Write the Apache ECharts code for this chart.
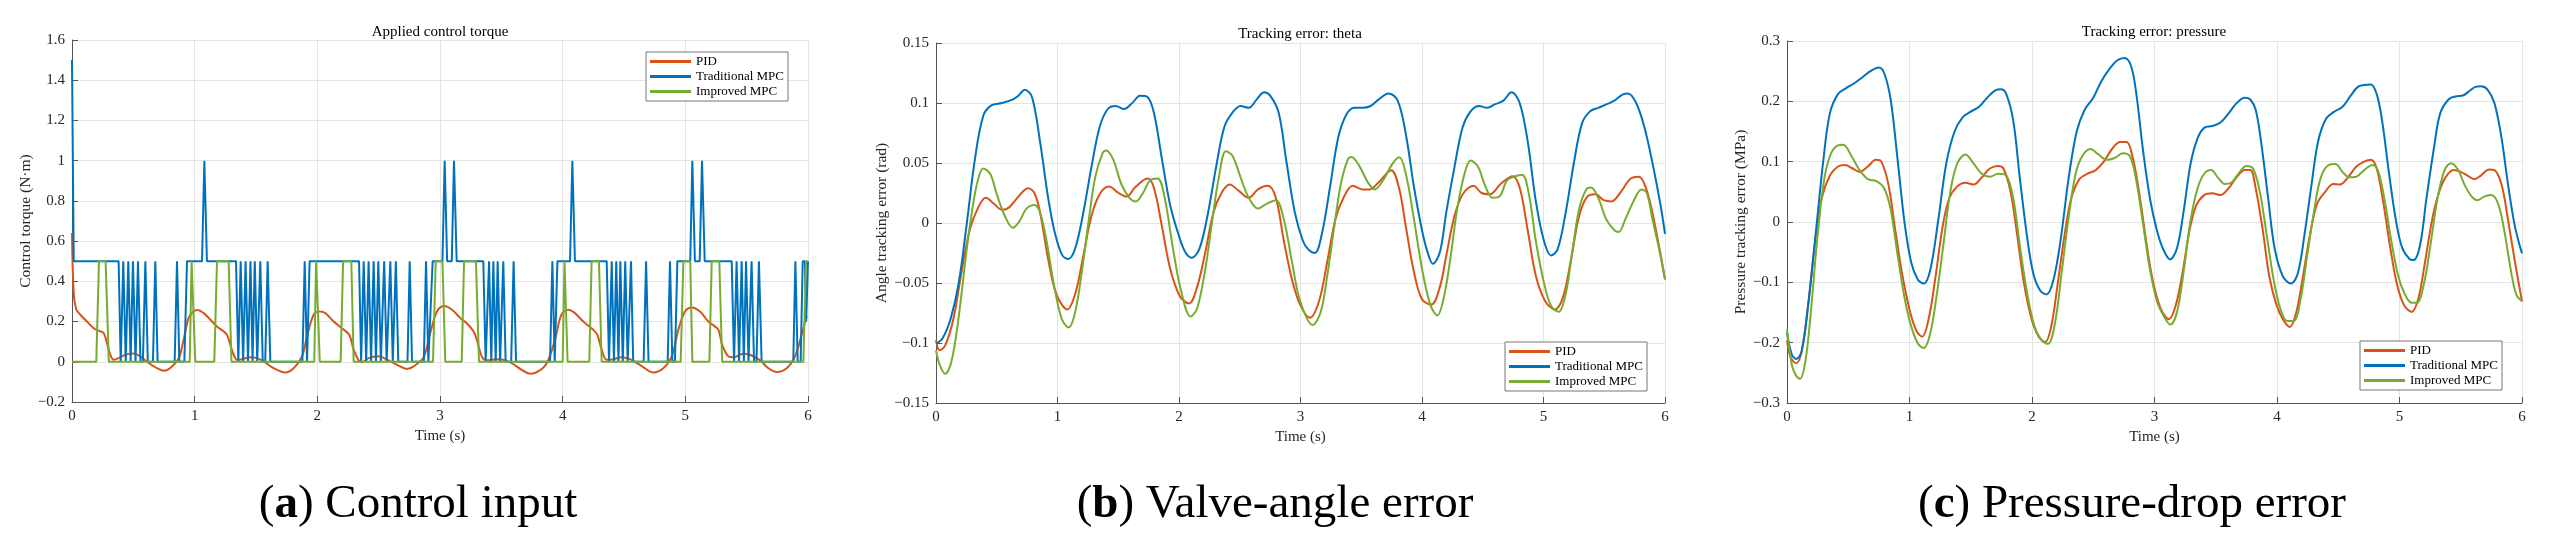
<!DOCTYPE html>
<html>
<head>
<meta charset="utf-8">
<script src="https://cdn.jsdelivr.net/npm/echarts@6/dist/echarts.min.js"></script>
<style>
html,body{margin:0;padding:0;background:#fff;}
#chart{width:2552px;height:555px;}
</style>
</head>
<body>
<div id="chart"></div>
<script>
// ---------- Data (time in s, value) ----------
const seriesNames = ['PID', 'Traditional MPC', 'Improved MPC'];
const xTicks = [0, 1, 2, 3, 4, 5, 6];

// Panel (a): applied control torque (N·m)
const torquePID = [[0,0.64],[0.014,0.34],[0.035,0.26],[0.068,0.234],[0.122,0.20],[0.177,0.167],[0.217,0.154],[0.258,0.143],[0.285,0.093],[0.3125,0.035],[0.34,0.01],[0.38,0.018],[0.448,0.038],[0.503,0.041],[0.557,0.027],[0.611,0.0],[0.693,-0.032],[0.753,-0.045],[0.815,-0.023],[0.87,0.018],[0.91,0.11],[0.95,0.217],[0.99,0.25],[1.025,0.257],[1.073,0.242],[1.128,0.209],[1.182,0.176],[1.236,0.151],[1.264,0.134],[1.29,0.085],[1.318,0.035],[1.345,0.01],[1.386,0.013],[1.454,0.023],[1.508,0.018],[1.5625,0.002],[1.644,-0.032],[1.739,-0.053],[1.807,-0.032],[1.875,0.027],[1.916,0.126],[1.97,0.234],[2.019,0.25],[2.065,0.242],[2.133,0.2],[2.2,0.167],[2.26,0.134],[2.296,0.06],[2.337,0.007],[2.364,-0.002],[2.418,0.018],[2.5,0.027],[2.58,0.007],[2.65,-0.015],[2.73,-0.036],[2.785,-0.023],[2.867,0.023],[2.92,0.143],[2.976,0.25],[3.035,0.277],[3.098,0.259],[3.166,0.217],[3.22,0.19],[3.274,0.151],[3.3,0.11],[3.34,0.027],[3.38,0.007],[3.462,0.013],[3.516,0.01],[3.584,-0.007],[3.666,-0.04],[3.734,-0.06],[3.80,-0.048],[3.87,-0.007],[3.9375,0.11],[3.99,0.234],[4.046,0.259],[4.10,0.242],[4.168,0.2],[4.25,0.159],[4.283,0.134],[4.318,0.06],[4.359,0.01],[4.413,0.013],[4.48,0.023],[4.549,0.013],[4.63,-0.015],[4.739,-0.053],[4.82,-0.032],[4.889,0.027],[4.943,0.159],[4.997,0.25],[5.05,0.27],[5.12,0.25],[5.1875,0.2],[5.24,0.176],[5.27,0.159],[5.30,0.085],[5.35,0.027],[5.39,0.022],[5.47,0.04],[5.527,0.035],[5.61,0.007],[5.677,-0.032],[5.745,-0.051],[5.826,-0.032],[5.894,0.027],[5.948,0.134],[5.989,0.229]];
const torqueTradMPC = [[0,1.5],[0.014,0.5],[0.38,0.5],[0.397,0],[0.418,0.5],[0.438,0],[0.459,0.5],[0.478,0],[0.497,0.5],[0.518,0],[0.538,0.5],[0.558,0],[0.578,0],[0.598,0.5],[0.618,0],[0.66,0],[0.679,0.5],[0.698,0],[0.837,0],[0.856,0.5],[0.875,0],[0.916,0],[0.9375,0.5],[1.06,0.5],[1.079,1],[1.10,0.5],[1.337,0.5],[1.356,0],[1.375,0.5],[1.395,0],[1.415,0.5],[1.435,0],[1.455,0.5],[1.472,0],[1.49,0.5],[1.51,0],[1.535,0.5],[1.555,0],[1.575,0],[1.595,0.5],[1.617,0],[1.878,0],[1.897,0.5],[1.916,0],[1.937,0.5],[2.34,0.5],[2.357,0],[2.378,0.5],[2.398,0],[2.418,0.5],[2.438,0],[2.459,0.5],[2.478,0],[2.497,0.5],[2.518,0],[2.545,0.5],[2.565,0],[2.575,0],[2.595,0.5],[2.615,0],[2.62,0],[2.64,0.5],[2.66,0],[2.735,0],[2.753,0.5],[2.772,0],[2.868,0],[2.886,0.5],[2.905,0],[2.92,0],[2.94,0.5],[3.02,0.5],[3.038,1],[3.058,0.5],[3.096,0.5],[3.114,1],[3.136,0.5],[3.353,0.5],[3.372,0],[3.40,0.5],[3.418,0],[3.435,0.5],[3.454,0],[3.47,0.5],[3.49,0],[3.516,0.5],[3.535,0],[3.58,0],[3.60,0.5],[3.62,0],[3.897,0],[3.916,0.5],[3.935,0],[3.957,0.5],[4.06,0.5],[4.079,1],[4.10,0.5],[4.359,0.5],[4.378,0],[4.40,0.5],[4.418,0],[4.437,0.5],[4.455,0],[4.47,0.5],[4.49,0],[4.51,0.5],[4.53,0],[4.538,0],[4.557,0.5],[4.575,0],[4.66,0],[4.68,0.5],[4.70,0],[4.856,0],[4.875,0.5],[4.894,0],[4.915,0],[4.935,0.5],[5.04,0.5],[5.057,1],[5.078,0.5],[5.117,0.5],[5.136,1],[5.158,0.5],[5.378,0.5],[5.397,0],[5.418,0.5],[5.438,0],[5.459,0.5],[5.477,0],[5.495,0.5],[5.515,0],[5.54,0.5],[5.56,0],[5.58,0],[5.60,0.5],[5.622,0],[5.88,0],[5.897,0.5],[5.916,0],[5.94,0],[5.957,0.5],[5.975,0.5],[5.985,0.2],[6,0.5]];
const torqueImpMPC = [[0,0],[0.198,0],[0.22,0.5],[0.274,0.5],[0.30,0],[0.96,0],[0.975,0.5],[0.99,0.5],[1.005,0],[1.16,0],[1.182,0.5],[1.277,0.5],[1.30,0],[1.975,0],[1.99,0.5],[2.005,0.5],[2.02,0],[2.19,0],[2.21,0.5],[2.277,0.5],[2.296,0],[2.943,0],[2.965,0.5],[3.02,0.5],[3.043,0],[3.177,0],[3.196,0.5],[3.293,0.5],[3.318,0],[4.0,0],[4.015,0.5],[4.025,0.5],[4.04,0],[4.217,0],[4.236,0.5],[4.296,0.5],[4.318,0],[4.962,0],[4.984,0.5],[5.04,0.5],[5.057,0],[5.196,0],[5.215,0.5],[5.277,0.5],[5.30,0],[5.962,0],[5.984,0.5],[6,0.5]];

// Panel (b): angle tracking error (rad)
const anglePID = [[0,-0.0975],[0.03,-0.106],[0.076,-0.102],[0.143,-0.08],[0.21,-0.041],[0.277,-0.006],[0.343,0.012],[0.41,0.021],[0.477,0.016],[0.544,0.011],[0.602,0.013],[0.678,0.022],[0.758,0.029],[0.81,0.025],[0.856,0.009],[0.923,-0.03],[0.99,-0.059],[1.08,-0.072],[1.146,-0.059],[1.213,-0.027],[1.28,0.006],[1.347,0.024],[1.423,0.0304],[1.503,0.025],[1.57,0.022],[1.637,0.0295],[1.74,0.037],[1.793,0.0295],[1.86,-0.003],[1.927,-0.038],[2.007,-0.061],[2.083,-0.067],[2.15,-0.053],[2.217,-0.024],[2.284,0.009],[2.35,0.025],[2.417,0.032],[2.49,0.027],[2.574,0.021],[2.65,0.028],[2.73,0.031],[2.797,0.021],[2.863,-0.015],[2.93,-0.047],[2.997,-0.068],[3.078,-0.079],[3.153,-0.065],[3.22,-0.0325],[3.287,0.003],[3.354,0.021],[3.43,0.031],[3.51,0.028],[3.568,0.028],[3.644,0.034],[3.747,0.044],[3.81,0.0295],[3.867,-0.003],[3.934,-0.041],[4.0,-0.0635],[4.077,-0.068],[4.148,-0.053],[4.2,-0.027],[4.268,0.006],[4.335,0.024],[4.424,0.031],[4.49,0.025],[4.558,0.024],[4.647,0.0325],[4.745,0.039],[4.804,0.0295],[4.87,-0.006],[4.937,-0.044],[5.013,-0.065],[5.093,-0.072],[5.16,-0.062],[5.227,-0.03],[5.294,0.006],[5.36,0.022],[5.428,0.024],[5.495,0.019],[5.56,0.018],[5.63,0.025],[5.718,0.037],[5.785,0.0385],[5.85,0.027],[5.92,-0.003],[6.0,-0.047]];
const angleTradMPC = [[0,-0.1005],[0.054,-0.096],[0.12,-0.08],[0.187,-0.05],[0.254,0],[0.32,0.053],[0.388,0.089],[0.455,0.098],[0.544,0.1],[0.633,0.103],[0.678,0.106],[0.73,0.111],[0.79,0.105],[0.856,0.068],[0.923,0.021],[0.98,-0.009],[1.04,-0.027],[1.088,-0.03],[1.146,-0.021],[1.213,0.009],[1.28,0.047],[1.347,0.08],[1.414,0.095],[1.48,0.0975],[1.548,0.095],[1.615,0.1],[1.68,0.106],[1.74,0.105],[1.793,0.092],[1.86,0.053],[1.927,0.015],[1.994,-0.009],[2.05,-0.024],[2.105,-0.029],[2.17,-0.021],[2.24,0.009],[2.306,0.047],[2.373,0.08],[2.44,0.092],[2.507,0.0975],[2.574,0.096],[2.64,0.103],[2.7,0.109],[2.752,0.106],[2.82,0.092],[2.886,0.05],[2.953,0.009],[3.02,-0.015],[3.064,-0.022],[3.118,-0.025],[3.176,-0.009],[3.243,0.03],[3.31,0.071],[3.376,0.09],[3.443,0.096],[3.51,0.096],[3.577,0.0975],[3.644,0.103],[3.724,0.108],[3.8,0.102],[3.867,0.074],[3.934,0.03],[4.0,-0.006],[4.045,-0.024],[4.09,-0.034],[4.148,-0.024],[4.2,0.009],[4.268,0.047],[4.335,0.08],[4.4,0.093],[4.47,0.0975],[4.536,0.096],[4.603,0.099],[4.67,0.102],[4.737,0.109],[4.804,0.1],[4.87,0.068],[4.937,0.018],[5.004,-0.015],[5.062,-0.027],[5.116,-0.022],[5.183,0.009],[5.25,0.05],[5.317,0.083],[5.383,0.093],[5.45,0.096],[5.52,0.099],[5.583,0.102],[5.65,0.107],[5.696,0.108],[5.763,0.1],[5.83,0.08],[5.897,0.05],[5.963,0.015],[6.0,-0.009]];
const angleImpMPC = [[0,-0.106],[0.03,-0.118],[0.076,-0.1256],[0.12,-0.118],[0.165,-0.0945],[0.21,-0.059],[0.254,-0.021],[0.3,0.012],[0.343,0.035],[0.388,0.0455],[0.446,0.041],[0.5,0.024],[0.566,0.006],[0.633,-0.004],[0.687,0.0015],[0.745,0.012],[0.81,0.015],[0.856,0.009],[0.91,-0.015],[0.968,-0.05],[1.035,-0.08],[1.093,-0.087],[1.146,-0.074],[1.204,-0.038],[1.258,0.003],[1.31,0.038],[1.37,0.058],[1.4,0.0605],[1.458,0.053],[1.525,0.0325],[1.592,0.021],[1.646,0.018],[1.704,0.025],[1.762,0.0355],[1.824,0.037],[1.882,0.021],[1.95,-0.021],[2.016,-0.056],[2.096,-0.078],[2.15,-0.071],[2.217,-0.038],[2.275,0.003],[2.328,0.038],[2.386,0.0597],[2.44,0.056],[2.507,0.038],[2.574,0.021],[2.65,0.012],[2.72,0.016],[2.797,0.019],[2.863,0.003],[2.93,-0.0325],[2.997,-0.065],[3.1,-0.085],[3.167,-0.074],[3.22,-0.044],[3.278,-0.003],[3.332,0.0325],[3.39,0.053],[3.42,0.055],[3.487,0.047],[3.554,0.034],[3.612,0.028],[3.688,0.037],[3.755,0.049],[3.813,0.0547],[3.867,0.041],[3.934,0.003],[4.0,-0.038],[4.068,-0.068],[4.126,-0.077],[4.18,-0.062],[4.237,-0.027],[4.29,0.012],[4.35,0.041],[4.4,0.052],[4.46,0.047],[4.52,0.031],[4.58,0.021],[4.637,0.022],[4.7,0.0355],[4.768,0.039],[4.826,0.04],[4.88,0.024],[4.937,-0.015],[5.004,-0.05],[5.062,-0.069],[5.125,-0.074],[5.183,-0.059],[5.241,-0.021],[5.294,0.012],[5.352,0.028],[5.392,0.0295],[5.45,0.021],[5.517,0.003],[5.583,-0.006],[5.62,-0.0074],[5.673,0.003],[5.74,0.018],[5.807,0.028],[5.85,0.025],[5.897,0.003],[5.95,-0.021],[6.0,-0.047]];

// Panel (c): pressure tracking error (MPa)
const pressurePID = [[0,-0.196],[0.031,-0.225],[0.075,-0.234],[0.12,-0.214],[0.173,-0.137],[0.23,-0.032],[0.283,0.039],[0.35,0.077],[0.416,0.092],[0.474,0.0945],[0.536,0.0887],[0.593,0.083],[0.66,0.092],[0.726,0.103],[0.77,0.1],[0.828,0.062],[0.88,-0.008],[0.939,-0.085],[1.005,-0.149],[1.058,-0.181],[1.103,-0.19],[1.156,-0.161],[1.213,-0.09],[1.27,-0.008],[1.324,0.039],[1.39,0.059],[1.457,0.065],[1.523,0.062],[1.59,0.074],[1.656,0.0887],[1.723,0.093],[1.767,0.0887],[1.825,0.05],[1.878,-0.02],[1.935,-0.102],[1.997,-0.161],[2.055,-0.19],[2.108,-0.199],[2.157,-0.173],[2.21,-0.102],[2.267,-0.02],[2.32,0.039],[2.387,0.071],[2.453,0.08],[2.52,0.086],[2.586,0.1],[2.653,0.121],[2.72,0.1327],[2.772,0.1327],[2.82,0.109],[2.874,0.05],[2.932,-0.032],[2.985,-0.096],[3.05,-0.143],[3.118,-0.161],[3.175,-0.137],[3.228,-0.085],[3.286,-0.014],[3.34,0.027],[3.406,0.0446],[3.472,0.0476],[3.538,0.0446],[3.605,0.056],[3.67,0.074],[3.738,0.086],[3.782,0.086],[3.826,0.056],[3.884,-0.014],[3.937,-0.09],[3.995,-0.137],[4.048,-0.161],[4.105,-0.174],[4.158,-0.149],[4.212,-0.09],[4.27,-0.02],[4.327,0.03],[4.393,0.05],[4.46,0.063],[4.513,0.062],[4.58,0.074],[4.646,0.0916],[4.712,0.1],[4.765,0.103],[4.814,0.0887],[4.867,0.033],[4.925,-0.043],[4.978,-0.102],[5.035,-0.137],[5.1,-0.149],[5.155,-0.126],[5.208,-0.067],[5.266,0.0035],[5.32,0.0476],[5.376,0.074],[5.443,0.086],[5.5,0.083],[5.554,0.077],[5.611,0.071],[5.664,0.077],[5.73,0.087],[5.775,0.086],[5.833,0.062],[5.886,0.0035],[5.943,-0.067],[6.0,-0.1315]];
const pressureTradMPC = [[0,-0.184],[0.04,-0.22],[0.075,-0.227],[0.12,-0.214],[0.173,-0.137],[0.24,-0.008],[0.297,0.103],[0.35,0.18],[0.416,0.212],[0.483,0.222],[0.55,0.23],[0.616,0.24],[0.682,0.25],[0.748,0.256],[0.793,0.247],[0.846,0.203],[0.903,0.103],[0.96,-0.002],[1.014,-0.067],[1.07,-0.096],[1.116,-0.102],[1.17,-0.079],[1.235,0.0035],[1.3,0.097],[1.368,0.15],[1.435,0.174],[1.5,0.183],[1.568,0.191],[1.634,0.206],[1.7,0.218],[1.745,0.22],[1.79,0.212],[1.847,0.168],[1.9,0.074],[1.957,-0.02],[2.01,-0.085],[2.068,-0.114],[2.12,-0.12],[2.175,-0.096],[2.232,-0.032],[2.3,0.074],[2.365,0.15],[2.43,0.186],[2.5,0.206],[2.564,0.2325],[2.63,0.253],[2.697,0.268],[2.755,0.272],[2.808,0.259],[2.85,0.215],[2.905,0.121],[2.963,0.039],[3.02,-0.014],[3.073,-0.046],[3.127,-0.062],[3.184,-0.043],[3.24,0.021],[3.295,0.097],[3.352,0.139],[3.406,0.156],[3.472,0.159],[3.538,0.165],[3.605,0.18],[3.67,0.197],[3.738,0.206],[3.782,0.203],[3.826,0.186],[3.87,0.133],[3.928,0.039],[3.98,-0.043],[4.048,-0.09],[4.114,-0.102],[4.17,-0.085],[4.225,-0.02],[4.282,0.062],[4.335,0.133],[4.4,0.171],[4.468,0.183],[4.535,0.191],[4.6,0.209],[4.66,0.224],[4.712,0.227],[4.765,0.228],[4.814,0.212],[4.858,0.168],[4.911,0.086],[4.97,0.0035],[5.022,-0.043],[5.08,-0.061],[5.115,-0.063],[5.168,-0.038],[5.22,0.039],[5.28,0.121],[5.332,0.18],[5.4,0.203],[5.456,0.208],[5.522,0.21],[5.576,0.218],[5.62,0.224],[5.664,0.225],[5.717,0.22],[5.775,0.197],[5.833,0.139],[5.886,0.062],[5.943,-0.008],[6.0,-0.052]];
const pressureImpMPC = [[0,-0.178],[0.04,-0.237],[0.075,-0.255],[0.106,-0.26],[0.15,-0.231],[0.195,-0.149],[0.24,-0.043],[0.297,0.062],[0.35,0.109],[0.416,0.127],[0.46,0.128],[0.527,0.109],[0.593,0.086],[0.66,0.071],[0.726,0.068],[0.793,0.056],[0.846,0.021],[0.903,-0.055],[0.96,-0.126],[1.014,-0.173],[1.07,-0.202],[1.116,-0.209],[1.17,-0.184],[1.227,-0.114],[1.28,-0.032],[1.333,0.05],[1.39,0.097],[1.457,0.112],[1.523,0.097],[1.59,0.08],[1.656,0.075],[1.723,0.08],[1.79,0.077],[1.847,0.039],[1.9,-0.038],[1.957,-0.114],[2.02,-0.173],[2.077,-0.196],[2.13,-0.202],[2.188,-0.167],[2.245,-0.079],[2.3,0.009],[2.356,0.08],[2.41,0.109],[2.476,0.121],[2.543,0.112],[2.61,0.103],[2.675,0.106],[2.74,0.114],[2.8,0.109],[2.852,0.068],[2.91,-0.008],[2.963,-0.079],[3.02,-0.1315],[3.073,-0.155],[3.13,-0.17],[3.184,-0.149],[3.24,-0.079],[3.295,0.0035],[3.352,0.056],[3.406,0.08],[3.463,0.086],[3.516,0.074],[3.574,0.063],[3.627,0.065],[3.685,0.08],[3.75,0.093],[3.804,0.0887],[3.86,0.05],[3.915,-0.02],[3.973,-0.096],[4.026,-0.143],[4.083,-0.164],[4.137,-0.164],[4.194,-0.126],[4.247,-0.055],[4.305,0.021],[4.358,0.074],[4.424,0.0945],[4.477,0.096],[4.535,0.083],[4.592,0.074],[4.646,0.075],[4.712,0.086],[4.778,0.0945],[4.823,0.086],[4.876,0.039],[4.934,-0.032],[4.99,-0.09],[5.044,-0.12],[5.1,-0.134],[5.142,-0.134],[5.2,-0.102],[5.257,-0.032],[5.31,0.039],[5.368,0.086],[5.42,0.0975],[5.48,0.086],[5.53,0.062],[5.59,0.042],[5.635,0.036],[5.69,0.042],[5.745,0.0446],[5.8,0.033],[5.85,-0.008],[5.908,-0.079],[5.953,-0.12],[6.0,-0.1315]];

// Axis ranges and labels
const yRangeA = {min: -0.2, max: 1.6, interval: 0.2};
const yRangeB = {min: -0.15, max: 0.15, interval: 0.05};
const yRangeC = {min: -0.3, max: 0.3, interval: 0.1};
const panelTitles = ['Applied control torque', 'Tracking error: theta', 'Tracking error: pressure'];
const yNames = ['Control torque (N\u00b7m)', 'Angle tracking error (rad)', 'Pressure tracking error (MPa)'];
const captionLetters = ['a', 'b', 'c'];
const captionTexts = [' Control input', ' Valve-angle error', ' Pressure-drop error'];

// ---------- Styling / layout ----------
const FONT = '"Liberation Serif", "Times New Roman", serif';
const colors = ['#D95319', '#0072BD', '#77AC30'];
const grids = [
  {left: 72, top: 40, width: 736, height: 362},
  {left: 936, top: 43, width: 729, height: 360},
  {left: 1787, top: 41, width: 735, height: 362}
];
const titlePos = [{x: 440, y: 25}, {x: 1300, y: 27}, {x: 2154, y: 25}];
const legendPos = [{left: 646, top: 52}, {left: 1505, top: 342}, {left: 2360, top: 341}];
const captionPos = [418, 1275, 2132];
const yNameGap = [32, 38, 32];

function fmt(v) {
  const r = Math.round(v * 1000) / 1000;
  return String(r).replace('-', '\u2212');
}

const chart = echarts.init(document.getElementById('chart'), null, {renderer: 'canvas'});

const xAxes = [], yAxes = [], series = [], titles = [], legends = [], graphics = [];
const yRanges = [yRangeA, yRangeB, yRangeC];
const dataSets = [
  [torquePID, torqueTradMPC, torqueImpMPC],
  [anglePID, angleTradMPC, angleImpMPC],
  [pressurePID, pressureTradMPC, pressureImpMPC]
];

for (let i = 0; i < 3; i++) {
  xAxes.push({
    type: 'value', gridIndex: i, min: xTicks[0], max: xTicks[xTicks.length - 1], interval: 1,
    name: 'Time (s)', nameLocation: 'middle', nameGap: 26,
    nameTextStyle: {fontFamily: FONT, fontSize: 15, color: '#262626'},
    axisLine: {onZero: false, lineStyle: {color: '#555', width: 1}},
    axisTick: {inside: true, length: 6, lineStyle: {color: '#555'}},
    axisLabel: {fontFamily: FONT, fontSize: 15, color: '#262626', margin: 7, formatter: fmt},
    splitLine: {show: true, lineStyle: {color: '#e4e4e4', width: 1}}
  });
  yAxes.push({
    type: 'value', gridIndex: i, min: yRanges[i].min, max: yRanges[i].max, interval: yRanges[i].interval,
    name: yNames[i], nameLocation: 'middle', nameGap: yNameGap[i],
    nameTextStyle: {fontFamily: FONT, fontSize: 15.5, color: '#262626'},
    axisLine: {show: true, onZero: false, lineStyle: {color: '#555', width: 1}},
    axisTick: {show: true, inside: true, length: 6, lineStyle: {color: '#555'}},
    axisLabel: {fontFamily: FONT, fontSize: 15, color: '#262626', margin: 7, formatter: fmt},
    splitLine: {show: true, lineStyle: {color: '#e4e4e4', width: 1}}
  });
  for (let k = 0; k < 3; k++) {
    series.push({
      type: 'line', name: seriesNames[k], xAxisIndex: i, yAxisIndex: i,
      data: dataSets[i][k], showSymbol: false, symbol: 'none',
      smooth: (i === 0 && k > 0) ? false : 0.35,
      lineStyle: {color: colors[k], width: 2},
      itemStyle: {color: colors[k]},
      z: 2 + k
    });
  }
  titles.push({
    text: panelTitles[i], left: titlePos[i].x, top: titlePos[i].y, textAlign: 'center', padding: 0,
    textStyle: {fontFamily: FONT, fontSize: 15, fontWeight: 'normal', color: '#000'}
  });
  legends.push({
    data: seriesNames, orient: 'vertical', left: legendPos[i].left, top: legendPos[i].top,
    icon: 'rect', itemWidth: 41, itemHeight: 3, itemGap: 2,
    padding: [3, 4, 3, 4], backgroundColor: '#fff', borderColor: '#777', borderWidth: 1,
    textStyle: {fontFamily: FONT, fontSize: 13, color: '#000'},
    selectedMode: false, z: 10
  });
  graphics.push({
    type: 'text', x: captionPos[i], y: 505,
    style: {
      text: '(' + '{b|' + captionLetters[i] + '})' + captionTexts[i],
      fontFamily: FONT, fontSize: 47, fill: '#000', align: 'center', verticalAlign: 'middle',
      rich: {b: {fontFamily: FONT, fontSize: 47, fontWeight: 'bold', fill: '#000'}}
    }
  });
}

chart.setOption({
  animation: false,
  backgroundColor: '#fff',
  title: titles,
  legend: legends,
  grid: grids,
  xAxis: xAxes,
  yAxis: yAxes,
  series: series,
  graphic: graphics
});
</script>
</body>
</html>
